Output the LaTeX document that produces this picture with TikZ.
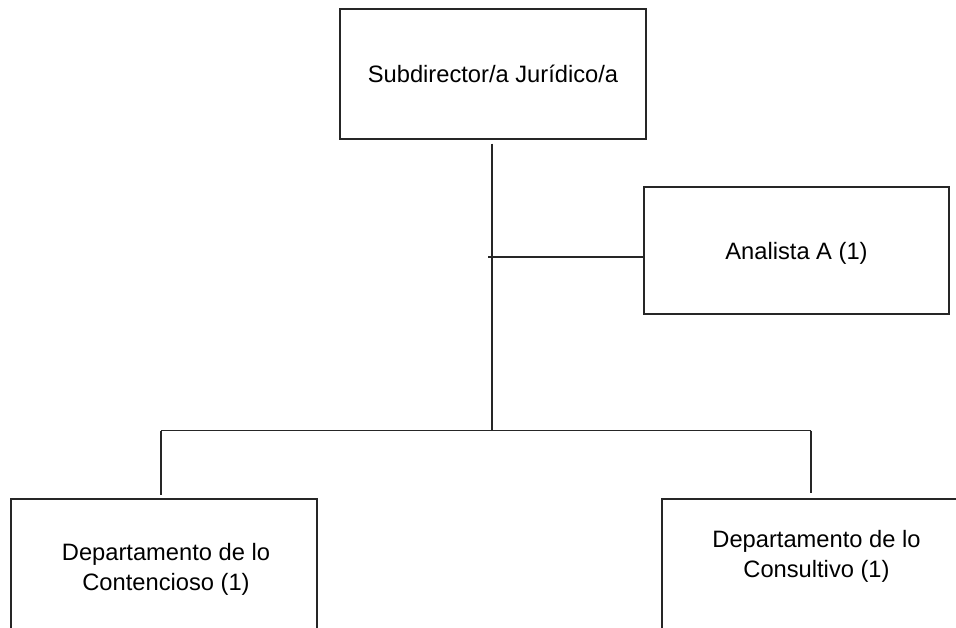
\documentclass[tikz,border=0pt]{standalone}
\usepackage{fontspec}
\setmainfont{Liberation Sans}
\begin{document}
\begin{tikzpicture}[x=1pt,y=-1pt,
  box/.style={draw=black!85, line width=1.1pt, minimum width=#1, inner sep=0pt},
  lbl/.style={align=center, inner sep=0pt, font=\fontsize{23.7}{30}\selectfont},
  conn/.style={draw=black!85, line width=1.1pt}]
\useasboundingbox (0,0) rectangle (956,627);
\clip (0,0) rectangle (956,627);
% boxes
\node[box=306pt, minimum height=130pt] (top) at (493,74) {};
\node[lbl] (toptxt) at (493,74) {Subdirector/a Jurídico/a};
\node[box=305pt, minimum height=127pt] (analista) at (796.5,250.5) {};
\node[lbl] (analistatxt) at (796.5,253) {Analista A (1)};
\node[box=306pt, minimum height=130pt] (cont) at (164,564) {};
\node[lbl] (conttxt) at (166,569) {Departamento de lo\\Contencioso (1)};
\node[box=309pt, minimum height=130pt] (cons) at (816.5,564) {};
\node[lbl] (constxt) at (816.5,556) {Departamento de lo\\Consultivo (1)};
% connectors
\coordinate (bus) at (492,430.6);
\coordinate (busL) at (161,430.6);
\coordinate (busR) at (811,430.6);
\coordinate (ha) at (488,257);
\draw[conn] (top.south -| bus) ++(0,4) -- (bus);
\draw[conn] (ha) -- (ha -| analista.west);
\draw[conn] (busL) -- (busR);
\draw[conn] (busL) -- ([yshift=3pt]busL |- cont.north);
\draw[conn] (busR) -- ([yshift=5pt]busR |- cons.north);
\end{tikzpicture}
\end{document}
